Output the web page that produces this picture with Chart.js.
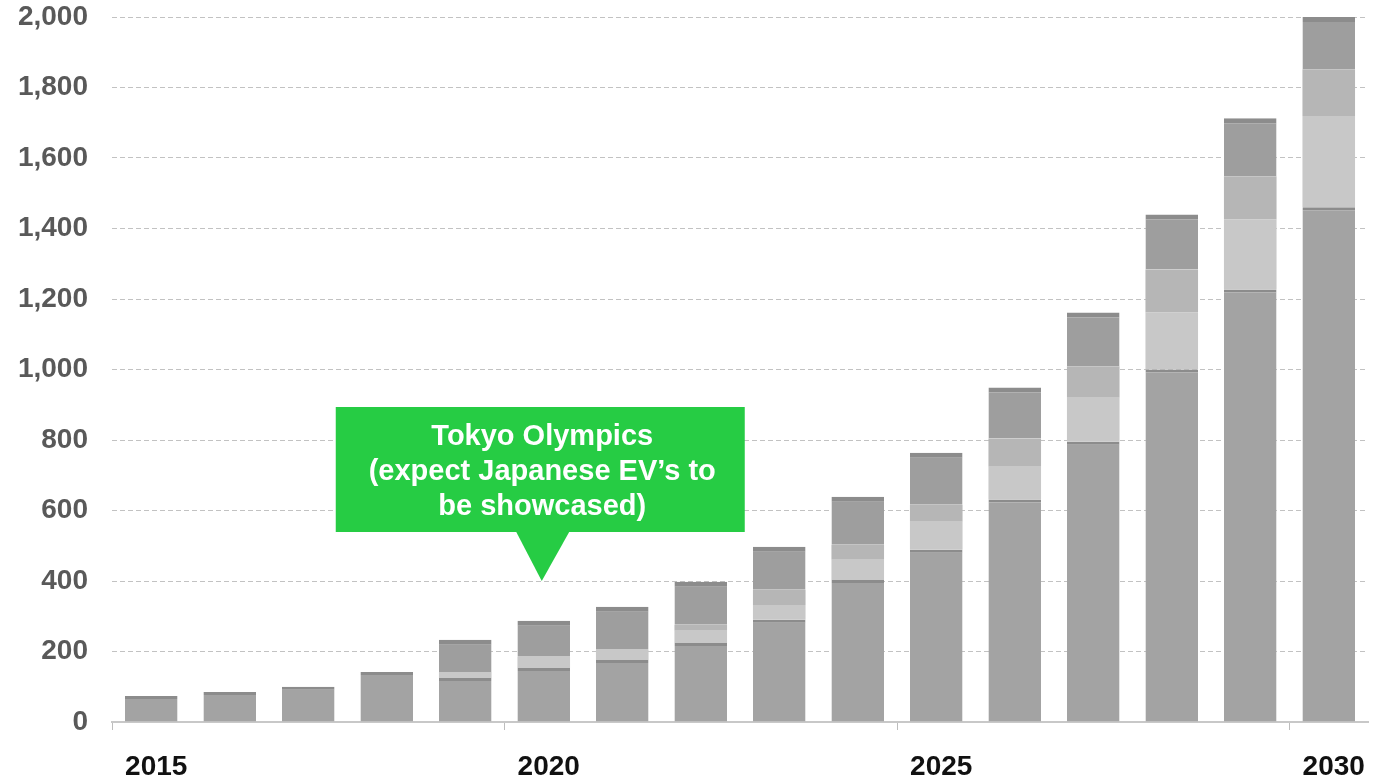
<!DOCTYPE html>
<html>
<head>
<meta charset="utf-8">
<script src="https://cdn.jsdelivr.net/npm/chart.js@4"></script>
<style>
  html, body { margin: 0; padding: 0; background: #fff; }
  #wrap { width: 1374px; height: 780px; }
</style>
</head>
<body>
<div id="wrap"><canvas id="evChart" width="1374" height="780"></canvas></div>
<script>
// years on the x axis
const years = ["2015","2016","2017","2018","2019","2020","2021","2022",
               "2023","2024","2025","2026","2027","2028","2029","2030"];

// stacked segments
const baseSeg  = [74, 85, 100, 142, 125, 153, 176, 224, 290, 403, 489, 631, 795, 1000, 1227, 1460];
const lightSeg = [0, 0, 0, 0, 17, 32, 29, 35, 42, 57, 79, 93, 125, 162, 199, 259];
const midSeg   = [0, 0, 0, 0, 0, 0, 0, 17, 43, 43, 48, 80, 89, 122, 122, 133];
const darkSeg  = [0, 0, 0, 0, 91, 102, 122, 122, 122, 136, 148, 145, 153, 156, 165, 148];

// y ticks
const yTicks = [0, 200, 400, 600, 800, 1000, 1200, 1400, 1600, 1800, 2000];
const labelEvery = 5;

// callout
const calloutLines = ["Tokyo Olympics", "(expect Japanese EV\u2019s to", "be showcased)"];
const calloutYear = "2020";
const calloutValue = 400;

const FONT = "'Liberation Sans', Arial, sans-serif";

const callout = {
    id: "callout",
    afterDatasetsDraw(chart) {
        const ctx = chart.ctx;
        const x = chart.scales.x.getPixelForValue(years.indexOf(calloutYear)) - 2;
        const tipY = chart.scales.y.getPixelForValue(calloutValue);
        const boxW = 409, boxH = 125;
        const left = x - 206;
        const top = tipY - 174;
        ctx.save();
        ctx.fillStyle = "#26cc44";
        ctx.fillRect(left, top, boxW, boxH);
        ctx.beginPath();
        ctx.moveTo(x - 26, top + boxH - 1);
        ctx.lineTo(x + 28, top + boxH - 1);
        ctx.lineTo(x, tipY);
        ctx.closePath();
        ctx.fill();
        ctx.fillStyle = "#ffffff";
        ctx.font = "bold 29px " + FONT;
        ctx.textAlign = "center";
        ctx.textBaseline = "middle";
        calloutLines.forEach((t, i) => {
            ctx.fillText(t, left + boxW / 2 + 2, top + 30 + i * 35);
        });
        ctx.restore();
    }
};

const segStyle = (label, data, color, cap) => ({
    label: label,
    data: data,
    backgroundColor: color,
    borderColor: "#8c8c8c",
    borderWidth: cap ? { top: cap, left: 0, right: 0, bottom: 0 } : 0,
    borderSkipped: false,
    barPercentage: 0.67,
    categoryPercentage: 1.0
});

new Chart(document.getElementById("evChart").getContext("2d"), {
    type: "bar",
    data: {
        labels: years,
        datasets: [
            segStyle("base", baseSeg, "#a3a3a3", 3),
            segStyle("light", lightSeg, "#c8c8c8", 0),
            segStyle("mid", midSeg, "#b6b6b6", 0),
            segStyle("dark", darkSeg, "#9e9e9e", 5)
        ]
    },
    options: {
        responsive: false,
        animation: false,
        layout: { padding: { top: 17, right: 6, bottom: 0, left: 0 } },
        plugins: {
            legend: { display: false },
            tooltip: { enabled: false }
        },
        scales: {
            x: {
                stacked: true,
                afterFit: s => { s.height = 58; s.paddingLeft = 0; s.paddingRight = 0; },
                border: { display: true, color: "#c8c8c8", width: 2 },
                grid: {
                    drawOnChartArea: false,
                    tickLength: 8,
                    color: c => (c.index % labelEvery === 0 ? "#bdbdbd" : "rgba(0,0,0,0)")
                },
                ticks: {
                    autoSkip: false,
                    maxRotation: 0,
                    padding: 20,
                    labelOffset: 5,
                    color: "#111111",
                    font: { family: FONT, size: 28, weight: "bold" },
                    callback: function (v, i) { return i % labelEvery === 0 ? years[i] : ""; }
                }
            },
            y: {
                stacked: true,
                min: 0,
                max: 2000,
                afterBuildTicks: s => { s.ticks = yTicks.map(v => ({ value: v })); },
                afterFit: s => { s.width = 112; s.paddingTop = 0; s.paddingBottom = 0; },
                border: { display: false, dash: [5, 3] },
                grid: {
                    drawTicks: false,
                    color: c => (c.index === 0 ? "rgba(0,0,0,0)" : "#c2c2c2"),
                    lineWidth: 1
                },
                ticks: {
                    padding: 24,
                    color: "#595959",
                    font: { family: FONT, size: 28, weight: "bold" },
                    callback: v => v.toLocaleString("en-US")
                }
            }
        }
    },
    plugins: [callout]
});
</script>
</body>
</html>
